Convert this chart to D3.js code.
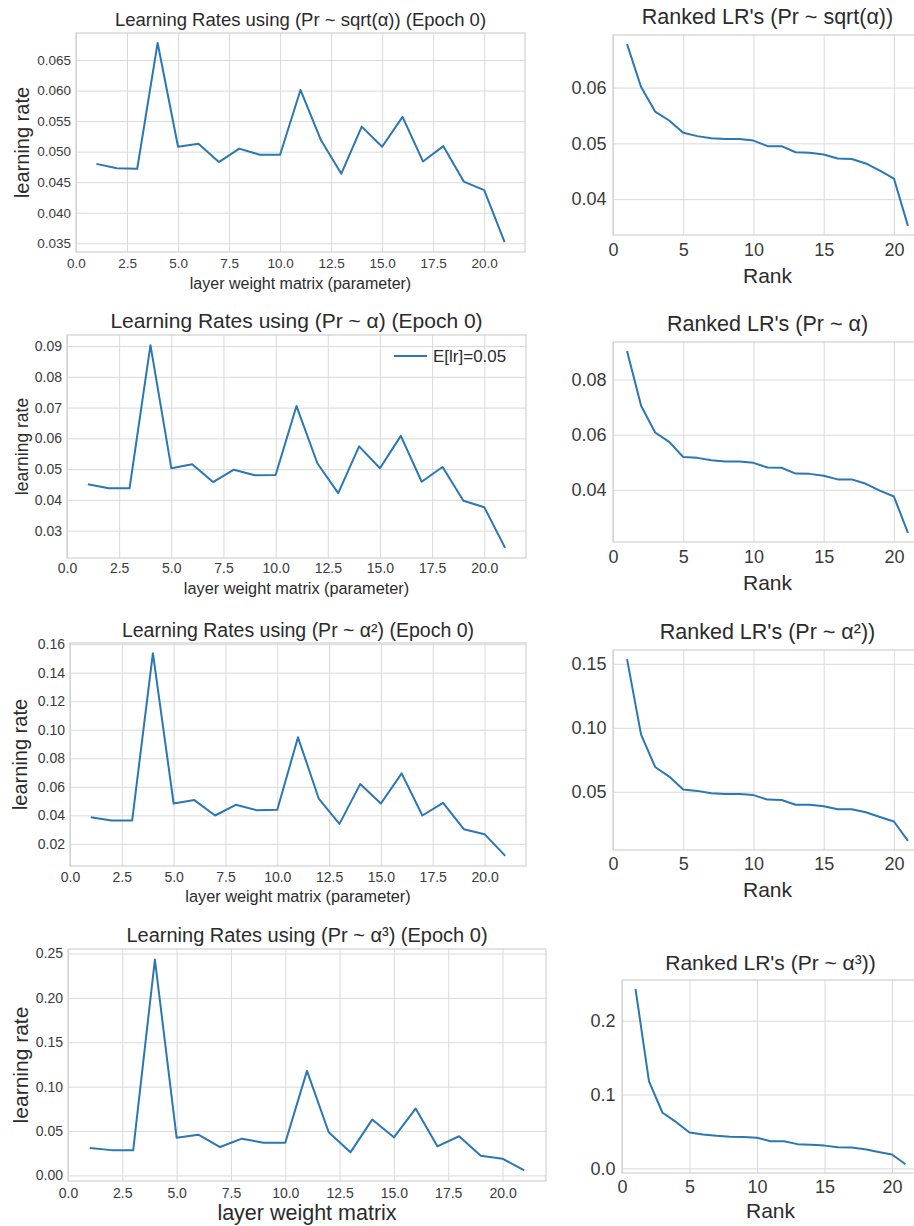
<!DOCTYPE html>
<html lang="en">
<head>
<meta charset="UTF-8">
<title>Learning rates per layer</title>
<script src="https://d3js.org/d3.v7.min.js"></script>
<style>
  body { margin: 0; background: #fff; }
  svg { display: block; font-family: "Liberation Sans", Arial, sans-serif; }
  .tick line { stroke: #dadada; stroke-width: 1; }
  .tick text { fill: #3a3a3a; }
  .frame { fill: none; stroke: #d0d0d0; stroke-width: 1.2; }
  .lbl { fill: #2b2b2b; }
</style>
</head>
<body>
<svg width="914" height="1226"></svg>
<script>
// layer index on the x axis
var layers = [1, 2, 3, 4, 5, 6, 7, 8, 9, 10, 11, 12, 13, 14, 15, 16, 17, 18, 19, 20, 21];

// learning rate of each layer weight matrix at epoch 0
var lrSqrt   = [0.0480, 0.0473, 0.0472, 0.0678, 0.0508, 0.0513, 0.0483, 0.0505, 0.0495, 0.0495, 0.0601,
                0.0519, 0.0464, 0.0541, 0.0508, 0.0557, 0.0484, 0.0509, 0.0451, 0.0437, 0.0352];
var lrAlpha  = [0.0451, 0.0438, 0.0438, 0.0903, 0.0503, 0.0516, 0.0458, 0.0498, 0.0480, 0.0481, 0.0705,
                0.0519, 0.0422, 0.0574, 0.0503, 0.0608, 0.0459, 0.0507, 0.0397, 0.0376, 0.0244];
var lrAlpha2 = [0.0387, 0.0364, 0.0364, 0.1537, 0.0483, 0.0507, 0.0399, 0.0474, 0.0436, 0.0439, 0.0947,
                0.0518, 0.0340, 0.0619, 0.0483, 0.0694, 0.0399, 0.0488, 0.0303, 0.0268, 0.0116];
var lrAlpha3 = [0.0308, 0.0285, 0.0283, 0.2432, 0.0425, 0.0459, 0.0320, 0.0414, 0.0368, 0.0368, 0.1178,
                0.0486, 0.0260, 0.0629, 0.0429, 0.0753, 0.0328, 0.0441, 0.0222, 0.0188, 0.0056];

// tick labels
var layerTicks = [0, 2.5, 5, 7.5, 10, 12.5, 15, 17.5, 20];
var rankTicks = [0, 5, 10, 15, 20];
var yTicksSqrt = [0.035, 0.040, 0.045, 0.050, 0.055, 0.060, 0.065];
var yTicksAlpha = [0.03, 0.04, 0.05, 0.06, 0.07, 0.08, 0.09];
var yTicksAlpha2 = [0.02, 0.04, 0.06, 0.08, 0.10, 0.12, 0.14, 0.16];
var yTicksAlpha3 = [0.00, 0.05, 0.10, 0.15, 0.20, 0.25];
var rankTicksSqrt = [0.04, 0.05, 0.06];
var rankTicksAlpha = [0.04, 0.06, 0.08];
var rankTicksAlpha2 = [0.05, 0.10, 0.15];
var rankTicksAlpha3 = [0.0, 0.1, 0.2];

var svg = d3.select("svg");
var lineColor = "#2a77b4";

function drawPanel(p) {
  var x = d3.scaleLinear().domain([0, 22]).range([p.x0, p.x1]);
  var ext = d3.extent(p.values), pad = (ext[1] - ext[0]) * 0.05;
  var y = d3.scaleLinear().domain([ext[0] - pad, ext[1] + pad]).range([p.y1, p.y0]);
  var g = svg.append("g");

  // x grid + tick labels
  var gx = g.append("g")
    .attr("transform", "translate(0," + p.y1 + ")")
    .call(d3.axisBottom(x).tickValues(p.xTicks).tickFormat(d3.format(p.xFmt))
      .tickSize(-(p.y1 - p.y0)).tickPadding(p.xPad));
  gx.select(".domain").remove();
  gx.selectAll("text").style("font-size", p.tick + "px");

  // y grid + tick labels
  var gy = g.append("g")
    .attr("transform", "translate(" + p.x0 + ",0)")
    .call(d3.axisLeft(y).tickValues(p.yTicks).tickFormat(d3.format(p.yFmt))
      .tickSize(-(p.x1 - p.x0)).tickPadding(p.yPad));
  gy.select(".domain").remove();
  gy.selectAll("text").style("font-size", p.tick + "px");

  g.append("rect").attr("class", "frame")
    .attr("x", p.x0).attr("y", p.y0)
    .attr("width", p.x1 - p.x0).attr("height", p.y1 - p.y0);

  var line = d3.line().x(function(d, i) { return x(layers[i]); }).y(function(d) { return y(d); });
  g.append("path").datum(p.values)
    .attr("fill", "none").attr("stroke", lineColor).attr("stroke-width", 2)
    .attr("stroke-linejoin", "round")
    .attr("d", line);

  var cx = (p.x0 + p.x1) / 2;
  g.append("text").attr("class", "lbl")
    .attr("x", cx).attr("y", p.titleY)
    .attr("text-anchor", "middle").attr("dominant-baseline", "central")
    .style("font-size", p.titleSize + "px").text(p.title);
  g.append("text").attr("class", "lbl")
    .attr("x", cx).attr("y", p.xlabelY)
    .attr("text-anchor", "middle").attr("dominant-baseline", "central")
    .style("font-size", p.xlabelSize + "px").text(p.xlabel);
  if (p.ylabel) {
    g.append("text").attr("class", "lbl")
      .attr("transform", "translate(" + p.ylabelX + "," + (p.y0 + p.y1) / 2 + ") rotate(-90)")
      .attr("text-anchor", "middle").attr("dominant-baseline", "central")
      .style("font-size", p.ylabelSize + "px").text(p.ylabel);
  }
  if (p.legend) {
    g.append("line").attr("x1", p.legend.x).attr("x2", p.legend.x + 33)
      .attr("y1", p.legend.y).attr("y2", p.legend.y)
      .attr("stroke", lineColor).attr("stroke-width", 2);
    g.append("text").attr("class", "lbl")
      .attr("x", p.legend.x + 39).attr("y", p.legend.y)
      .attr("dominant-baseline", "central")
      .style("font-size", p.legend.size + "px").text(p.legend.text);
  }
}

var xlab = "layer weight matrix (parameter)";

// left column: per-layer learning rates
drawPanel({ values: lrSqrt, yTicks: yTicksSqrt, yFmt: ".3f", xTicks: layerTicks, xFmt: ".1f",
  x0: 76, x1: 525, y0: 33, y1: 252, tick: 13.5, xPad: 6, yPad: 5,
  title: "Learning Rates using (Pr ~ sqrt(\u03b1)) (Epoch 0)", titleY: 19, titleSize: 18.5,
  xlabel: xlab, xlabelY: 283, xlabelSize: 16, ylabel: "learning rate", ylabelX: 22, ylabelSize: 20 });

drawPanel({ values: lrAlpha, yTicks: yTicksAlpha, yFmt: ".2f", xTicks: layerTicks, xFmt: ".1f",
  x0: 67, x1: 526, y0: 335, y1: 558, tick: 14, xPad: 5, yPad: 5,
  title: "Learning Rates using (Pr ~ \u03b1) (Epoch 0)", titleY: 320, titleSize: 21,
  xlabel: xlab, xlabelY: 588, xlabelSize: 16.3, ylabel: "learning rate", ylabelX: 22, ylabelSize: 17.5,
  legend: { x: 394, y: 356, size: 17, text: "E[lr]=0.05" } });

drawPanel({ values: lrAlpha2, yTicks: yTicksAlpha2, yFmt: ".2f", xTicks: layerTicks, xFmt: ".1f",
  x0: 70, x1: 526, y0: 643, y1: 866, tick: 14, xPad: 6, yPad: 5,
  title: "Learning Rates using (Pr ~ \u03b1\u00b2) (Epoch 0)", titleY: 630, titleSize: 19.5,
  xlabel: xlab, xlabelY: 896, xlabelSize: 16.3, ylabel: "learning rate", ylabelX: 20, ylabelSize: 20 });

drawPanel({ values: lrAlpha3, yTicks: yTicksAlpha3, yFmt: ".2f", xTicks: layerTicks, xFmt: ".1f",
  x0: 68, x1: 546, y0: 949, y1: 1181, tick: 14, xPad: 7, yPad: 5,
  title: "Learning Rates using (Pr ~ \u03b1\u00b3) (Epoch 0)", titleY: 935, titleSize: 20,
  xlabel: "layer weight matrix", xlabelY: 1213, xlabelSize: 21.5, ylabel: "learning rate", ylabelX: 20, ylabelSize: 21 });

// right column: the same values ranked from largest to smallest
function ranked(v) { return d3.sort(v, d3.descending); }

drawPanel({ values: ranked(lrSqrt), yTicks: rankTicksSqrt, yFmt: ".2f", xTicks: rankTicks, xFmt: "d",
  x0: 613, x1: 922, y0: 35, y1: 235, tick: 18, xPad: 8, yPad: 6.5,
  title: "Ranked LR's (Pr ~ sqrt(\u03b1))", titleY: 17, titleSize: 21.5,
  xlabel: "Rank", xlabelY: 275, xlabelSize: 21 });

drawPanel({ values: ranked(lrAlpha), yTicks: rankTicksAlpha, yFmt: ".2f", xTicks: rankTicks, xFmt: "d",
  x0: 613, x1: 922, y0: 342, y1: 542, tick: 18, xPad: 8, yPad: 6.5,
  title: "Ranked LR's (Pr ~ \u03b1)", titleY: 324, titleSize: 21.5,
  xlabel: "Rank", xlabelY: 582, xlabelSize: 21 });

drawPanel({ values: ranked(lrAlpha2), yTicks: rankTicksAlpha2, yFmt: ".2f", xTicks: rankTicks, xFmt: "d",
  x0: 613, x1: 922, y0: 650, y1: 850, tick: 18, xPad: 7, yPad: 6.5,
  title: "Ranked LR's (Pr ~ \u03b1\u00b2))", titleY: 632, titleSize: 21.5,
  xlabel: "Rank", xlabelY: 889, xlabelSize: 21 });

drawPanel({ values: ranked(lrAlpha3), yTicks: rankTicksAlpha3, yFmt: ".1f", xTicks: rankTicks, xFmt: "d",
  x0: 622, x1: 919, y0: 980, y1: 1173, tick: 18, xPad: 7, yPad: 6.5,
  title: "Ranked LR's (Pr ~ \u03b1\u00b3))", titleY: 962, titleSize: 21,
  xlabel: "Rank", xlabelY: 1210, xlabelSize: 21 });
</script>
</body>
</html>
